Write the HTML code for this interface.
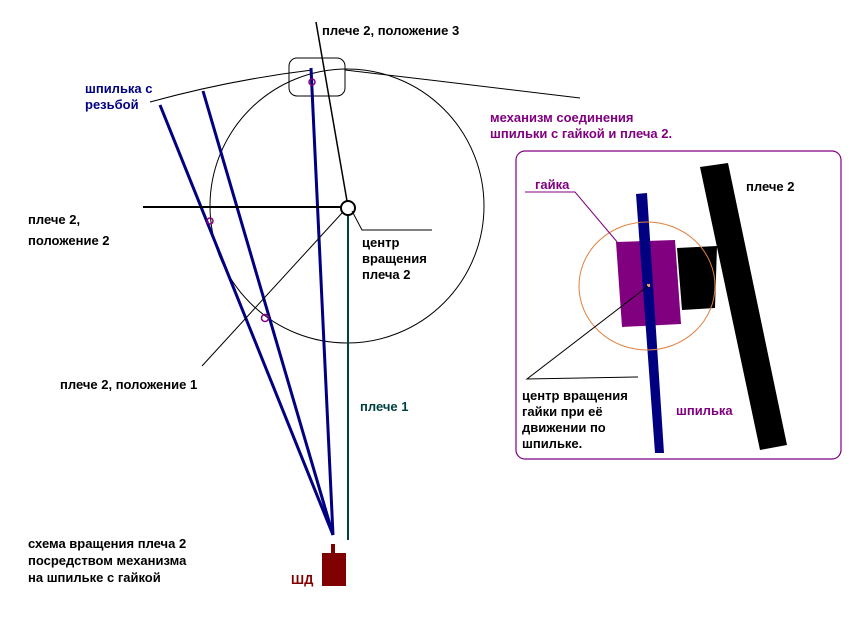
<!DOCTYPE html>
<html><head><meta charset="utf-8"><style>
body{margin:0;background:#fff}
svg text{font-family:"Liberation Sans",sans-serif;font-weight:bold;font-size:13px}
</style></head><body>
<svg width="858" height="614" viewBox="0 0 858 614" xmlns="http://www.w3.org/2000/svg">
<rect width="858" height="614" fill="#fff"/>
<circle cx="347" cy="206" r="137" fill="none" stroke="#000" stroke-width="1"/>
<path d="M150 102 Q230 80 312 70" fill="none" stroke="#000"/>
<path d="M345 70 L430 80 L580 98" fill="none" stroke="#000"/>
<rect x="289" y="58" width="56" height="38" rx="8" fill="none" stroke="#000"/>
<g stroke="#000080" stroke-width="3">
<line x1="160" y1="105" x2="333" y2="535"/>
<line x1="203" y1="91" x2="333" y2="535"/>
<line x1="311" y1="68" x2="333" y2="535"/>
</g>
<line x1="316" y1="22" x2="347" y2="201" stroke="#000" stroke-width="1.5"/>
<line x1="143" y1="207" x2="341" y2="207" stroke="#000" stroke-width="2"/>
<line x1="342" y1="213" x2="202" y2="366" stroke="#000" stroke-width="1"/>
<line x1="348" y1="215" x2="348" y2="540" stroke="#004040" stroke-width="2"/>
<circle cx="348" cy="208" r="7" fill="#fff" stroke="#000" stroke-width="2"/>
<polyline points="352,211 362,230 432,230" fill="none" stroke="#000"/>
<g fill="none" stroke="#800080" stroke-width="1.5">
<circle cx="210" cy="221" r="3"/><circle cx="265" cy="318" r="3.5"/><circle cx="312" cy="82" r="3"/>
</g>
<rect x="322" y="553" width="24" height="33" fill="#800000"/>
<rect x="331" y="544" width="4" height="10" fill="#800000"/>
<text x="322" y="35">плече 2, положение 3</text>
<text x="85" y="93" fill="#000080">шпилька с</text>
<text x="85" y="109" fill="#000080">резьбой</text>
<text x="28" y="224">плече 2,</text>
<text x="28" y="245">положение 2</text>
<text x="362" y="247">центр</text>
<text x="362" y="263">вращения</text>
<text x="362" y="279">плеча 2</text>
<text x="60" y="389">плече 2, положение 1</text>
<text x="360" y="411" fill="#004040">плече 1</text>
<text x="490" y="122" fill="#800080">механизм соединения</text>
<text x="490" y="138" fill="#800080">шпильки с гайкой и плеча 2.</text>
<text x="28" y="548">схема вращения плеча 2</text>
<text x="28" y="565">посредством механизма</text>
<text x="28" y="582">на шпильке с гайкой</text>
<text x="291" y="584" fill="#800000">ШД</text>
<rect x="516" y="151" width="325" height="308" rx="9" fill="none" stroke="#800080" stroke-width="1.2"/>
<polygon points="700,167 728,163 787,445 760,450" fill="#000"/>
<polygon points="677,248 717,246 715,308 682,310" fill="#000"/>
<polygon points="616,242 675,240 681,324 622,327" fill="#800080"/>
<polygon points="636,194 647,193 664,453 655,453" fill="#000080"/>
<ellipse cx="647" cy="286" rx="68" ry="64" fill="none" stroke="#e08040" stroke-width="1"/>
<rect x="647" y="284" width="3" height="3" fill="#f0a060"/>
<polyline points="525,192 575,192 618,243" fill="none" stroke="#800080" stroke-width="1"/>
<polyline points="648,286 527,379 638,377" fill="none" stroke="#000" stroke-width="1"/>
<text x="535" y="189" fill="#800080">гайка</text>
<text x="746" y="191">плече 2</text>
<text x="522" y="400">центр вращения</text>
<text x="522" y="416">гайки при её</text>
<text x="522" y="432">движении по</text>
<text x="522" y="448">шпильке.</text>
<text x="676" y="415" fill="#800080">шпилька</text>
</svg>
</body></html>
